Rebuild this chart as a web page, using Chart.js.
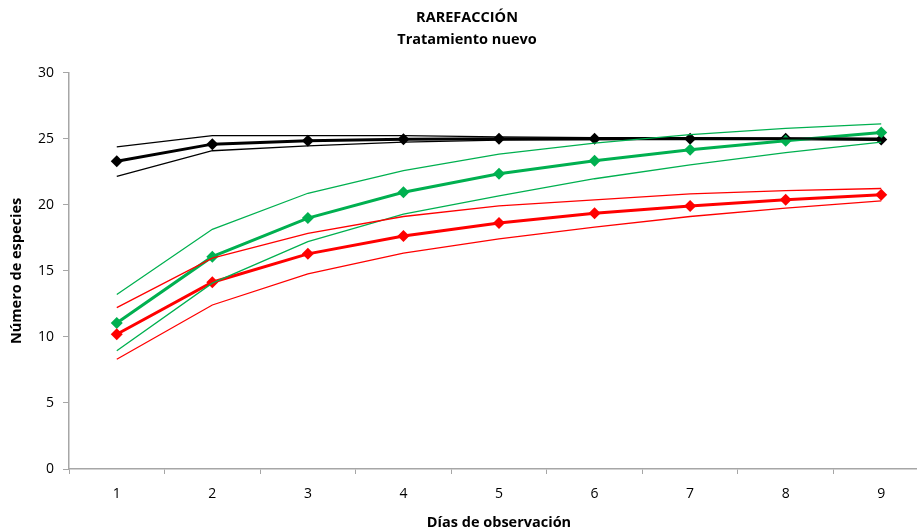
<!DOCTYPE html>
<html>
<head>
<meta charset="utf-8">
<script src="https://cdn.jsdelivr.net/npm/chart.js@4"></script>
<style>
  html, body { margin: 0; padding: 0; background: #fff; overflow: hidden; }
  #wrap { width: 935px; height: 532px; }
</style>
</head>
<body>
<div id="wrap"><canvas id="chart" width="935" height="532"></canvas></div>
<script>
// dias de observacion
const dias = ['1', '2', '3', '4', '5', '6', '7', '8', '9'];

// rarefaccion, especies observadas (media y limites)
const negroMedia = [23.3, 24.6, 24.85, 24.97, 25.0, 25.0, 25.0, 25.0, 24.95];
const negroSup = [24.4, 25.25, 25.25, 25.25, 25.15, 25.1, 25.1, 25.05, 25.05];
const negroInf = [22.15, 24.1, 24.47, 24.75, 24.9, 24.95, 24.98, 25.0, 24.95];

const verdeMedia = [11.05, 16.08, 19.0, 20.95, 22.35, 23.35, 24.17, 24.85, 25.48];
const verdeSup = [13.22, 18.15, 20.88, 22.6, 23.84, 24.67, 25.32, 25.8, 26.14];
const verdeInf = [8.95, 14.07, 17.22, 19.3, 20.68, 21.98, 23.03, 23.96, 24.75];

const rojoMedia = [10.2, 14.14, 16.29, 17.65, 18.62, 19.37, 19.92, 20.38, 20.76];
const rojoSup = [12.22, 15.96, 17.85, 19.12, 19.92, 20.38, 20.83, 21.08, 21.24];
const rojoInf = [8.31, 12.42, 14.77, 16.34, 17.42, 18.31, 19.12, 19.75, 20.3];

const yTicks = [0, 5, 10, 15, 20, 25, 30];

const NEGRO = '#000000', VERDE = '#00B050', ROJO = '#FF0000';
const FONT = '"Open Sans", "Noto Sans", sans-serif';

function limite(data, color) {
  return { data, borderColor: color, borderWidth: 1.3, pointRadius: 0, fill: false, tension: 0 };
}
function media(data, color) {
  return {
    data, borderColor: color, backgroundColor: color, borderWidth: 3,
    pointStyle: 'rectRot', pointRadius: 6, pointHoverRadius: 6,
    pointBackgroundColor: color, pointBorderColor: color, pointBorderWidth: 0,
    fill: false, tension: 0
  };
}

new Chart(document.getElementById('chart'), {
  type: 'line',
  data: {
    labels: dias,
    datasets: [
      limite(rojoSup, ROJO), limite(rojoInf, ROJO),
      limite(verdeSup, VERDE), limite(verdeInf, VERDE),
      limite(negroSup, NEGRO), limite(negroInf, NEGRO),
      media(rojoMedia, ROJO), media(verdeMedia, VERDE), media(negroMedia, NEGRO)
    ]
  },
  options: {
    responsive: false,
    animation: false,
    layout: { padding: { left: 0, right: 1, top: 0, bottom: 0 } },
    plugins: {
      legend: { display: false },
      tooltip: { enabled: false },
      title: {
        display: true,
        text: ['RAREFACCIÓN', 'Tratamiento nuevo'],
        color: '#000',
        font: { family: FONT, size: 14.5, weight: 'bold', lineHeight: 1.58 },
        padding: { top: 6, bottom: 21 }
      }
    },
    scales: {
      x: {
        type: 'category',
        offset: true,
        grid: { offset: true, drawOnChartArea: false, drawTicks: true, tickLength: 5, color: '#A6A6A6' },
        border: { color: '#A6A6A6', width: 1.5 },
        ticks: { color: '#000', font: { family: FONT, size: 14 }, padding: 12, maxRotation: 0 },
        title: { display: true, text: 'Días de observación', color: '#000', font: { family: FONT, size: 14.5, weight: 'bold' }, padding: { top: 4, bottom: 0 } },
        afterFit: s => { s.height = 63; }
      },
      y: {
        min: 0, max: 30,
        afterBuildTicks: s => { s.ticks = yTicks.map(v => ({ value: v })); },
        grid: { drawOnChartArea: false, drawTicks: true, tickLength: 6, color: '#A6A6A6' },
        border: { color: '#A6A6A6', width: 1.5 },
        ticks: { color: '#000', font: { family: FONT, size: 14 }, padding: 9 },
        title: { display: true, text: 'Número de especies', color: '#000', font: { family: FONT, size: 14.5, weight: 'bold' }, padding: { top: 8, bottom: 0 } },
        afterFit: s => { s.width = 69; }
      }
    }
  }
});
</script>
</body>
</html>
